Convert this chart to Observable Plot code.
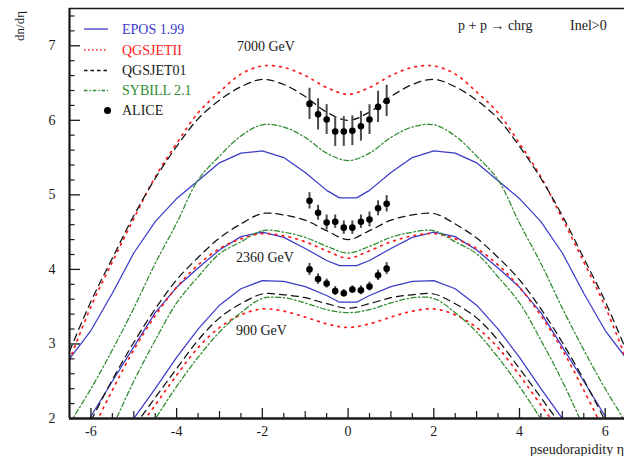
<!DOCTYPE html>
<html><head><meta charset="utf-8">
<script src="https://cdn.jsdelivr.net/npm/d3@7"></script>
<script src="https://cdn.jsdelivr.net/npm/@observablehq/plot@0.6"></script>
<style>
html,body{margin:0;padding:0;background:#fff;overflow:hidden}
#wrap{position:relative;width:624px;height:456px;font-family:"Liberation Serif","Times New Roman",serif}
#wrap svg.overlay{position:absolute;left:0;top:0;pointer-events:none}
</style></head><body><div id="wrap"></div>
<script>
// pseudorapidity grid for model curves
const eta = [-6.5,-6,-5.5,-5,-4.5,-4,-3.5,-3,-2.5,-2,-1.5,-1,-0.5,0,0.5,1,1.5,2,2.5,3,3.5,4,4.5,5,5.5,6,6.5];
const etaEpos = [-6.5,-6,-5.5,-5,-4.5,-4,-3.5,-3,-2.5,-2,-1.5,-1,-0.5,-0.2,0.2,0.5,1,1.5,2,2.5,3,3.5,4,4.5,5,5.5,6,6.5];

// 7000 GeV
const epos7000   = [2.80,3.18,3.68,4.22,4.64,4.95,5.19,5.43,5.56,5.59,5.50,5.30,5.06,4.96,4.96,5.06,5.30,5.50,5.59,5.56,5.43,5.19,4.95,4.64,4.22,3.68,3.18,2.80];
const qgsII7000  = [2.78,3.50,4.10,4.68,5.24,5.69,6.10,6.38,6.62,6.73,6.71,6.60,6.44,6.35,6.44,6.60,6.71,6.73,6.62,6.38,6.10,5.69,5.24,4.68,4.10,3.50,2.78];
const qgs01_7000 = [2.90,3.57,4.15,4.72,5.22,5.65,6.02,6.27,6.45,6.55,6.48,6.32,6.11,6.00,6.11,6.32,6.48,6.55,6.45,6.27,6.02,5.65,5.22,4.72,4.15,3.57,2.90];
const sib7000    = [1.93,2.40,2.92,3.48,4.08,4.62,5.20,5.52,5.79,5.94,5.91,5.77,5.56,5.46,5.56,5.77,5.91,5.94,5.79,5.52,5.20,4.62,4.08,3.48,2.92,2.40,1.93];
// 2360 GeV
const epos2360   = [1.55,2.03,2.50,2.96,3.42,3.76,4.02,4.26,4.44,4.50,4.43,4.28,4.12,4.05,4.05,4.12,4.28,4.43,4.50,4.44,4.26,4.02,3.76,3.42,2.96,2.50,2.03,1.55];
const qgsII2360  = [1.20,1.80,2.38,2.92,3.38,3.76,4.06,4.28,4.41,4.48,4.45,4.37,4.25,4.15,4.25,4.37,4.45,4.48,4.41,4.28,4.06,3.76,3.38,2.92,2.38,1.80,1.20];
const qgs01_2360 = [1.40,1.97,2.52,3.02,3.47,3.86,4.16,4.42,4.61,4.75,4.73,4.66,4.52,4.40,4.52,4.66,4.73,4.75,4.61,4.42,4.16,3.86,3.47,3.02,2.52,1.97,1.40];
const sib2360    = [0.60,1.25,1.88,2.50,3.05,3.55,3.90,4.21,4.37,4.52,4.50,4.43,4.31,4.22,4.31,4.43,4.50,4.52,4.37,4.21,3.90,3.55,3.05,2.50,1.88,1.25,0.60];
// 900 GeV
const epos900    = [0.50,1.00,1.50,2.00,2.40,2.82,3.20,3.52,3.74,3.85,3.84,3.77,3.65,3.56,3.56,3.65,3.77,3.84,3.85,3.74,3.52,3.20,2.82,2.40,2.00,1.50,1.00,0.50];
const qgsII900   = [0.50,0.90,1.35,1.78,2.18,2.58,2.95,3.22,3.39,3.47,3.44,3.36,3.27,3.22,3.27,3.36,3.44,3.47,3.39,3.22,2.95,2.58,2.18,1.78,1.35,0.90,0.50];
const qgs01_900  = [0.55,1.00,1.45,1.88,2.28,2.67,3.05,3.35,3.54,3.67,3.66,3.62,3.54,3.48,3.54,3.62,3.66,3.67,3.54,3.35,3.05,2.67,2.28,1.88,1.45,1.00,0.55];
const sib900     = [0.00,0.50,1.00,1.50,1.99,2.43,2.82,3.16,3.42,3.61,3.62,3.55,3.46,3.42,3.46,3.55,3.62,3.61,3.42,3.16,2.82,2.43,1.99,1.50,1.00,0.50,0.00];

// ALICE data
const aliceEta  = [-0.9,-0.7,-0.5,-0.3,-0.1,0.1,0.3,0.5,0.7,0.9];
const alice7000 = [6.22,6.08,6.01,5.85,5.85,5.86,5.92,6.01,6.18,6.26];
const err7000   = [0.21,0.21,0.20,0.20,0.20,0.20,0.20,0.20,0.21,0.21];
const alice2360 = [4.92,4.76,4.63,4.64,4.56,4.56,4.64,4.67,4.82,4.88];
const err2360   = [0.11,0.10,0.10,0.09,0.09,0.09,0.09,0.10,0.10,0.11];
const alice900  = [4.00,3.87,3.81,3.71,3.68,3.73,3.72,3.77,3.92,4.01];
const err900    = [0.08,0.07,0.06,0.06,0.05,0.05,0.06,0.06,0.07,0.08];

// tick labels
const xLabels = [-6,-4,-2,0,2,4,6];
const xMid = [-5,-3,-1,1,3,5];
const xMinor = [-5.5,-4.5,-3.5,-2.5,-1.5,-0.5,0.5,1.5,2.5,3.5,4.5,5.5];
const yLabels = [2,3,4,5,6,7];
const yMinor = d3.range(2.2, 7.5, 0.2).filter(v => Math.abs(v - Math.round(v)) > 0.01);

const models = ["EPOS 1.99","QGSJETII","QGSJET01","SYBILL 2.1"];
const modelColors = ["#3b3bc8","#ff1a1a","#111111","#2e8b2e"];
const modelDash = [null,"1.6,5.4","7,5","5,2.5,1.6,2.5"];

const rows = [];
function add(model, energy, xs, ys){ xs.forEach((x,i)=>rows.push({model, energy, eta:x, dn:ys[i]})); }
add("EPOS 1.99","7000",etaEpos,epos7000); add("EPOS 1.99","2360",etaEpos,epos2360); add("EPOS 1.99","900",etaEpos,epos900);
add("QGSJETII","7000",eta,qgsII7000); add("QGSJETII","2360",eta,qgsII2360); add("QGSJETII","900",eta,qgsII900);
add("QGSJET01","7000",eta,qgs01_7000); add("QGSJET01","2360",eta,qgs01_2360); add("QGSJET01","900",eta,qgs01_900);
add("SYBILL 2.1","7000",eta,sib7000); add("SYBILL 2.1","2360",eta,sib2360); add("SYBILL 2.1","900",eta,sib900);

const alice = [];
[[alice7000,err7000],[alice2360,err2360],[alice900,err900]].forEach(([v,e])=>aliceEta.forEach((x,i)=>alice.push({eta:x, v:v[i], e:e[i]})));

const lineMarks = models.map((m,i)=>Plot.line(rows.filter(d=>d.model===m), {
  x:"eta", y:"dn", z:"energy", stroke:modelColors[i],
  strokeWidth: i===1 ? 1.7 : 1.25, strokeDasharray: modelDash[i],
  curve: i===0 ? "linear" : "catmull-rom", clip:true
}));

const blank = () => "";
const chart = Plot.plot({
  width: 624, height: 456,
  marginLeft: 69, marginRight: 0, marginTop: 8, marginBottom: 38,
  x: {domain: [-6.5, 6.45]},
  y: {domain: [2, 7.5]},
  style: {fontFamily: '"Liberation Serif","Times New Roman",serif', fontSize: "14px", color: "#1a1a1a", background: "white"},
  marks: [
    ...lineMarks,
    Plot.ruleX(alice, {x:"eta", y1:d=>d.v-d.e, y2:d=>d.v+d.e, stroke:"#4a4a4a", strokeWidth:2}),
    Plot.dot(alice, {x:"eta", y:"v", r:3.3, fill:"#000"}),
    Plot.axisX(xLabels, {tickSize:0, tickPadding:8, tickFormat:d=>String(d), fontSize:14, label:null}),
    Plot.axisX(xLabels, {tickSize:-10, tickFormat:blank, label:null, strokeWidth:1.3}),
    Plot.axisX(xMid, {tickSize:-7, tickFormat:blank, label:null, strokeWidth:1.2}),
    Plot.axisX(xMinor, {tickSize:-5, tickFormat:blank, label:null, strokeWidth:1.2}),
    Plot.axisY(yLabels, {tickSize:0, tickPadding:14, tickFormat:d=>String(d), fontSize:14, label:null}),
    Plot.axisY(yLabels, {tickSize:-11, tickFormat:blank, label:null, strokeWidth:1.3}),
    Plot.axisY(yMinor, {tickSize:-5.5, tickFormat:blank, label:null, strokeWidth:1.2}),
    Plot.ruleX([-6.5], {strokeWidth:2.2, stroke:"#1a1a1a"}),
    Plot.ruleY([2], {strokeWidth:2.6, stroke:"#1a1a1a"}),
    Plot.ruleY([7.5], {strokeWidth:1.6, stroke:"#1a1a1a"})
  ]
});
const wrap = document.getElementById("wrap");
wrap.appendChild(chart);

// overlay: legend, annotations, axis titles
const svg = d3.select(wrap).append("svg").attr("class","overlay").attr("width",624).attr("height",456)
  .style("font-family",'"Liberation Serif","Times New Roman",serif');
const txt = (x,y,s,opts={}) => svg.append("text").attr("x",x).attr("y",y).attr("dominant-baseline","central")
  .attr("font-size",opts.size||14).attr("fill",opts.fill||"#1a1a1a").attr("text-anchor",opts.anchor||"start")
  .attr("transform",opts.transform||null).text(s);

const legendY = [29,50,70.5,90.5,110.5];
const legendDash = [null,"1.5,2.5","3.5,3","3.5,2,1.3,2"];
models.forEach((m,i)=>{
  svg.append("line").attr("x1",84).attr("x2",108).attr("y1",legendY[i]).attr("y2",legendY[i])
    .attr("stroke",modelColors[i]).attr("stroke-width",i===1?1.5:1.3).attr("stroke-dasharray",legendDash[i]);
  txt(122, legendY[i], m, {fill: i===2 ? "#1a1a1a" : modelColors[i]});
});
svg.append("circle").attr("cx",107.5).attr("cy",legendY[4]).attr("r",3.5).attr("fill","#000");
txt(122, legendY[4], "ALICE");

txt(237, 46, "7000 GeV");
txt(236, 257, "2360 GeV");
txt(236, 330.5, "900 GeV");
txt(458, 25, "p + p \u2192 chrg");
txt(570, 25, "Inel>0");
txt(624, 449, "pseudorapidity \u03b7", {anchor:"end"});
txt(0, 0, "dn/d\u03b7", {size:13, anchor:"middle", transform:"translate(19,26) rotate(-90)"});
</script></body></html>
